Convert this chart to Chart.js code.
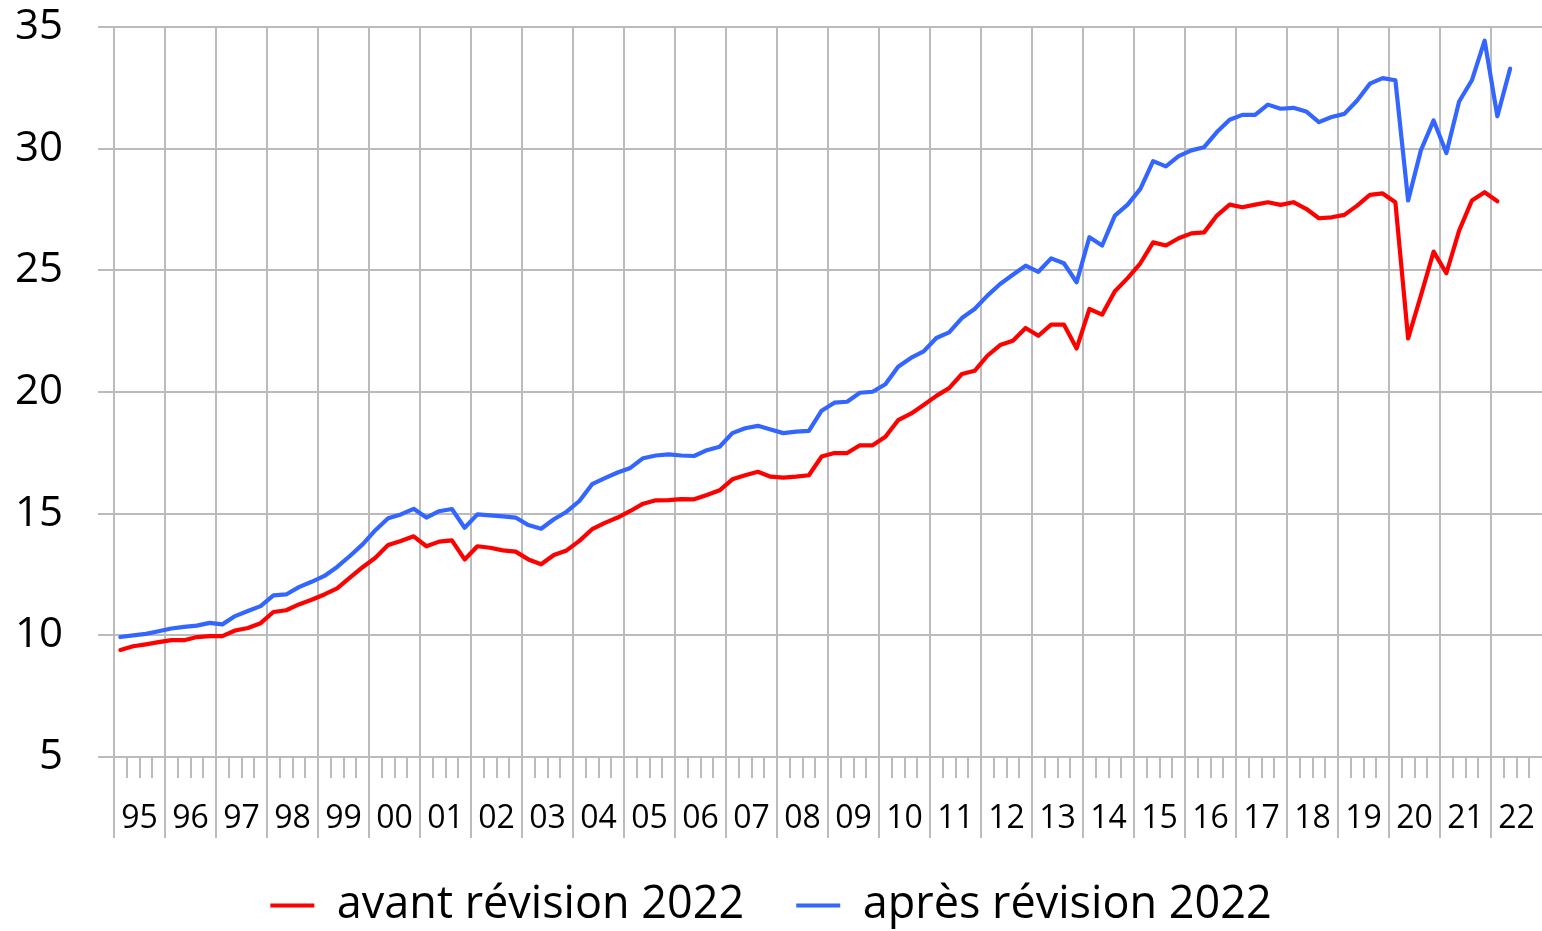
<!DOCTYPE html>
<html>
<head>
<meta charset="utf-8">
<script src="https://cdn.jsdelivr.net/npm/chart.js@4/dist/chart.umd.min.js"></script>
<style>
  html, body { margin: 0; padding: 0; background: #ffffff; }
  #wrap { width: 1542px; height: 931px; position: relative; }
</style>
</head>
<body>
<div id="wrap"><canvas id="c" width="1542" height="931"></canvas></div>
<script>
// Year labels (two-digit) of the category axis
const years = ['95','96','97','98','99','00','01','02','03','04','05','06','07','08','09',
               '10','11','12','13','14','15','16','17','18','19','20','21','22'];
const quarters = ['T1','T2','T3','T4'];

// avant révision 2022 (1995T1 .. 2022T1)
const avantRevision = [
  9.40, 9.55, 9.63, 9.72,
  9.80, 9.80, 9.93, 9.97,
  9.97, 10.20, 10.30, 10.50,
  10.96, 11.03, 11.27, 11.46,
  11.68, 11.93, 12.37, 12.80,
  13.19, 13.71, 13.88, 14.07,
  13.66, 13.85, 13.90, 13.12,
  13.66, 13.60, 13.49, 13.44,
  13.12, 12.92, 13.30, 13.49,
  13.88, 14.36, 14.62, 14.84,
  15.11, 15.41, 15.55, 15.56,
  15.60, 15.59, 15.77, 15.96,
  16.41, 16.58, 16.72, 16.52,
  16.48, 16.52, 16.58, 17.35,
  17.49, 17.49, 17.81, 17.81,
  18.16, 18.84, 19.11, 19.47,
  19.84, 20.16, 20.74, 20.87,
  21.49, 21.93, 22.11, 22.63,
  22.31, 22.77, 22.77, 21.79,
  23.41, 23.18, 24.14, 24.68,
  25.29, 26.15, 26.02, 26.32,
  26.52, 26.56, 27.25, 27.70,
  27.59, 27.70, 27.80, 27.69,
  27.80, 27.53, 27.14, 27.18,
  27.28, 27.66, 28.10, 28.16,
  27.80, 22.20, 23.96, 25.77,
  24.88, 26.63, 27.87, 28.21,
  27.84
];

// après révision 2022 (1995T1 .. 2022T2)
const apresRevision = [
  9.93, 10.00, 10.06, 10.17,
  10.28, 10.35, 10.40, 10.51,
  10.45, 10.79, 11.00, 11.20,
  11.64, 11.68, 11.98, 12.20,
  12.44, 12.81, 13.26, 13.74,
  14.32, 14.81, 14.97, 15.20,
  14.84, 15.10, 15.19, 14.42,
  14.97, 14.93, 14.89, 14.84,
  14.53, 14.38, 14.77, 15.08,
  15.52, 16.21, 16.46, 16.69,
  16.88, 17.28, 17.39, 17.44,
  17.39, 17.37, 17.61, 17.75,
  18.31, 18.51, 18.61, 18.46,
  18.31, 18.37, 18.40, 19.23,
  19.56, 19.60, 19.97, 20.01,
  20.32, 21.04, 21.40, 21.67,
  22.22, 22.45, 23.04, 23.41,
  23.96, 24.44, 24.82, 25.19,
  24.94, 25.49, 25.29, 24.51,
  26.36, 26.02, 27.25, 27.70,
  28.35, 29.49, 29.27, 29.69,
  29.93, 30.06, 30.68, 31.19,
  31.39, 31.39, 31.81, 31.64,
  31.68, 31.53, 31.09, 31.30,
  31.43, 31.98, 32.67, 32.90,
  32.81, 27.87, 29.93, 31.16,
  29.82, 31.94, 32.81, 34.44,
  31.33, 33.29
];

const seriesNames = ['avant révision 2022', 'après révision 2022'];
const yTicks = [5, 10, 15, 20, 25, 30, 35];

// quarterly categories built from the year list
const categories = [];
years.forEach(y => quarters.forEach(q => categories.push(y + q)));

const gridColor = '#bbbbbb';
const FONT = "'Open Sans', 'DejaVu Sans', sans-serif";

new Chart(document.getElementById('c'), {
  type: 'line',
  data: {
    labels: categories,
    datasets: [
      {
        label: seriesNames[0],
        data: avantRevision,
        borderColor: '#ff0000',
        backgroundColor: '#ff0000',
        borderWidth: 4.2,
        pointRadius: 0,
        tension: 0,
        fill: false,
        borderJoinStyle: 'round',
        borderCapStyle: 'round'
      },
      {
        label: seriesNames[1],
        data: apresRevision,
        borderColor: '#3366ff',
        backgroundColor: '#3366ff',
        borderWidth: 4.2,
        pointRadius: 0,
        tension: 0,
        fill: false,
        borderJoinStyle: 'round',
        borderCapStyle: 'round'
      }
    ]
  },
  options: {
    responsive: false,
    animation: false,
    events: [],
    layout: { padding: { left: 0, right: 0, top: 27, bottom: -7 } },
    plugins: {
      tooltip: { enabled: false },
      legend: {
        display: true,
        position: 'bottom',
        labels: {
          usePointStyle: true,
          pointStyle: 'line',
          pointStyleWidth: 44,
          padding: 52,
          color: '#000000',
          font: { family: FONT, size: 45 }
        }
      }
    },
    scales: {
      x: {
        type: 'category',
        offset: true,
        border: { display: false },
        grid: {
          offset: true,
          lineWidth: 2,
          color: ctx => (ctx.index !== undefined && ctx.index % 4 === 0) ? gridColor : 'rgba(0,0,0,0)',
          tickLength: 81,
          tickWidth: 2,
          tickColor: ctx => (ctx.index === undefined) ? 'rgba(0,0,0,0)' : gridColor,
          tickBorderDash: ctx => (ctx.index !== undefined && ctx.index % 4 === 0) ? [] : [21, 300]
        },
        ticks: {
          autoSkip: false,
          maxRotation: 0,
          minRotation: 0,
          labelOffset: 6.4,
          padding: -38,
          color: '#000000',
          font: { family: FONT, size: 32 },
          callback: (value, index) => index % 4 === 1 ? years[Math.floor(index / 4)] : ''
        },
        afterFit: scale => { scale.height = 74; }
      },
      y: {
        min: yTicks[0],
        max: yTicks[yTicks.length - 1],
        border: { display: false },
        grid: {
          color: gridColor,
          lineWidth: 2,
          tickLength: 16,
          tickColor: gridColor,
          tickWidth: 2
        },
        afterBuildTicks: scale => { scale.ticks = yTicks.map(v => ({ value: v })); },
        ticks: {
          padding: 35,
          color: '#000000',
          font: { family: FONT, size: 42 }
        },
        afterFit: scale => {
          scale.width = 114;
          scale.paddingTop = 0;
          scale.paddingBottom = 0;
        }
      }
    }
  }
});
</script>
</body>
</html>
